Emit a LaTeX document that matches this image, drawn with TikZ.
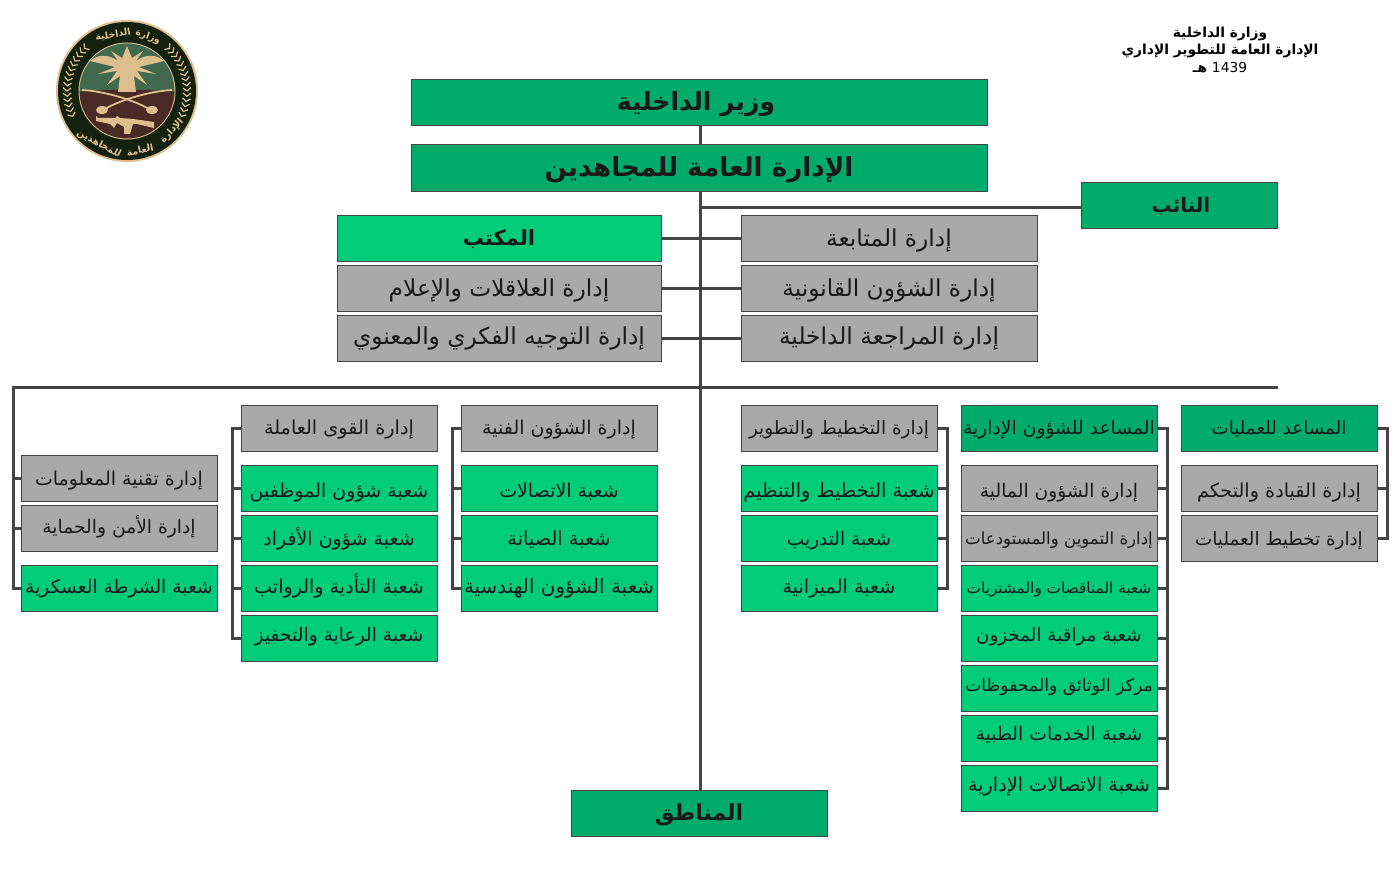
\documentclass[tikz,border=0pt]{standalone}
\usepackage{fontspec}
\setmainfont{DejaVu Sans}
\newfontfamily\arabicfont[Script=Arabic]{DejaVu Sans}
\TeXXeTstate=1
\newcommand{\artxt}[1]{{\arabicfont\beginR #1\endR}}
\newcommand{\pxfont}[1]{\fontsize{#1}{#1}\selectfont}
\definecolor{darkgreen}{HTML}{00AB6B}
\definecolor{lightgreen}{HTML}{00CC7A}
\definecolor{boxgrey}{HTML}{A9A9A9}
\definecolor{linegrey}{HTML}{444444}
\definecolor{sealgold}{HTML}{DDBF8E}
\definecolor{sealdark}{HTML}{14210F}
\definecolor{sealgreen}{HTML}{41694D}
\definecolor{sealbrown}{HTML}{4A2A25}
\tikzset{
  x=1pt,y=-1pt,
  base/.style={text height={(22+#1)*1pt},text depth={(22-#1)*1pt}},
  box/.style={draw=linegrey,line width=1pt,inner sep=0pt,outer sep=0pt,minimum height=46pt,text=black!90},
  greybox/.style={box,fill=boxgrey},
  greenbox/.style={box,fill=lightgreen},
  darkbox/.style={box,fill=darkgreen},
  small/.style={minimum width=196pt,font=\pxfont{19}},
  mid/.style={minimum width=296pt,font=\pxfont{23.3}},
  wide/.style={minimum width=324pt,font=\pxfont{23.3}},
  title/.style={darkbox,minimum width=576pt},
  link/.style={draw=linegrey,line width=3pt},
  sealtext/.style={text=sealgold,inner sep=0pt,font=\pxfont{9.5}\bfseries},
  head/.style={inner sep=0pt,font=\pxfont{13.8}\bfseries}
}
\begin{document}
\begin{tikzpicture}
  \useasboundingbox (0,0) rectangle (1400,880);

  % seal
  \begin{scope}[shift={(127,91)}]
    \fill[sealgold] (0,0) circle[radius=71];
    \fill[sealdark] (0,0) circle[radius=69];
    \fill[sealgold] (0,0) circle[radius=48.5];
    \begin{scope}
      \clip (0,0) circle[radius=47.5];
      \fill[sealgreen] (-50,-50) rectangle (50,2);
      \fill[sealbrown] (-50,1) .. controls (-20,-2) and (20,-2) .. (50,1) -- (50,50) -- (-50,50) -- cycle;
      \fill[sealgold] (0,-45) -- (5,-33) -- (16,-40) -- (9,-30) .. controls (20,-38) and (30,-36) .. (37,-30)
        -- (12,-24) -- (29,-17) -- (10,-20) -- (20,-6) -- (7,-15) -- (9,1) -- (-9,1) -- (-7,-15) -- (-20,-6)
        -- (-10,-20) -- (-29,-17) -- (-12,-24) -- (-37,-30) .. controls (-30,-36) and (-20,-38) .. (-9,-30)
        -- (-16,-40) -- (-5,-33) -- cycle;
      \draw[sealgold,line width=1.8pt] (-45,-1) .. controls (-25,0) and (5,8) .. (22,18);
      \draw[sealgold,line width=1.8pt] (45,-1) .. controls (25,0) and (-5,8) .. (-22,18);
      \fill[sealgold] (-25,19) ellipse[x radius=6,y radius=4];
      \fill[sealgold] (25,19) ellipse[x radius=6,y radius=4];
      \fill[sealgold] (-31,25) -- (-29,27) -- (-12,27) -- (-10,25) -- (-7,27) -- (6,28) -- (27,31) -- (27,37)
        -- (10,33) -- (6,33) -- (3,43) -- (-3,43) -- (-3,36) -- (-10,32) -- (-13,37) -- (-17,33) -- (-31,30) -- cycle;
    \end{scope}
    \foreach \a in {155,160,...,225}{
      \draw[sealgold,line width=1.2pt] (\a+3:56) -- (\a:60) -- (\a+3:64);
      \draw[sealgold,line width=1.2pt] (177-\a:56) -- (180-\a:60) -- (177-\a:64);
    }
    \node[sealtext,rotate=-20] (sealw1) at (21,-54) {\artxt{وزارة}};
    \node[sealtext,rotate=10] (sealw2) at (-14,-56) {\artxt{الداخلية}};
    \node[sealtext,rotate=48] (sealw3) at (45,40) {\artxt{الإدارة}};
    \node[sealtext,rotate=12] (sealw4) at (13,59) {\artxt{العامة}};
    \node[sealtext,rotate=-28] (sealw5) at (-28,53) {\artxt{للمجاهدين}};
  \end{scope}

  % heading
  \node[head] (headone) at (1220,34) {\artxt{وزارة الداخلية}};
  \node[head] (headtwo) at (1220,51) {\artxt{الإدارة العامة للتطوير الإداري}};
  \node[head] (headthree) at (1220,68) {{\arabicfont\beginR\beginL{\mdseries 1439}\endL{} هـ\endR}};

  % top of the chart
  \node[title,base=7.5,font=\pxfont{25}\bfseries] (minister) at (699,103) {\artxt{وزير الداخلية}\hspace*{6pt}};
  \node[title,base=8.5,font=\pxfont{26.2}\bfseries] (general) at (699,168) {\artxt{الإدارة العامة للمجاهدين}};
  \node[darkbox,small,base=7,font=\pxfont{20}\bfseries] (deputy) at (1179,205) {\hspace*{4pt}\artxt{النائب}};

  \node[greenbox,wide,base=7.5,font=\pxfont{21}\bfseries] (office) at (499,238) {\artxt{المكتب}};
  \node[greybox,wide,base=8] (relations) at (499,288) {\artxt{إدارة العلاقلات والإعلام}};
  \node[greybox,wide,base=6] (guidance) at (499,338) {\artxt{إدارة التوجيه الفكري والمعنوي}};
  \node[greybox,mid,base=8.5] (followup) at (889,238) {\artxt{إدارة المتابعة}};
  \node[greybox,mid,base=8] (legal) at (889,288) {\artxt{إدارة الشؤون القانونية}};
  \node[greybox,mid,base=6] (audit) at (889,338) {\artxt{إدارة المراجعة الداخلية}};

  % right groups
  \node[darkbox,small,base=6.5,font=\pxfont{18.3}] (ops) at (1279,428) {\artxt{المساعد للعمليات}};
  \node[greybox,small,base=9,font=\pxfont{19.2}] (command) at (1279,488) {\artxt{إدارة القيادة والتحكم}};
  \node[greybox,small,base=7,font=\pxfont{18.3}] (opsplan) at (1279,538) {\artxt{إدارة تخطيط العمليات}};

  \node[darkbox,small,base=6.5,font=\pxfont{18.7}] (admin) at (1059,428) {\artxt{المساعد للشؤون الإدارية}};
  \node[greybox,small,base=9,font=\pxfont{18.7}] (finance) at (1059,488) {\artxt{إدارة الشؤون المالية}};
  \node[greybox,small,base=6.5,font=\pxfont{16.6}] (supply) at (1059,538) {\artxt{إدارة التموين والمستودعات}};
  \node[greenbox,small,base=5,font=\pxfont{15.3}] (tenders) at (1059,588) {\artxt{شعبة المناقصات والمشتريات}};
  \node[greenbox,small,base=3.5,font=\pxfont{18.3}] (stock) at (1059,638) {\artxt{شعبة مراقبة المخزون}};
  \node[greenbox,small,base=3.5,font=\pxfont{17.2}] (archive) at (1059,688) {\artxt{مركز الوثائق والمحفوظات}};
  \node[greenbox,small,base=2.5,font=\pxfont{18.8}] (medical) at (1059,738) {\artxt{شعبة الخدمات الطبية}};
  \node[greenbox,small,base=3.5,font=\pxfont{19.2}] (signals) at (1059,788) {\artxt{شعبة الاتصالات الإدارية}};

  \node[greybox,small,base=6.5,font=\pxfont{18.4}] (planning) at (839,428) {\artxt{إدارة التخطيط والتطوير}};
  \node[greenbox,small,base=9,font=\pxfont{19.4}] (organise) at (839,488) {\artxt{شعبة التخطيط والتنظيم}};
  \node[greenbox,small,base=7,font=\pxfont{18.5}] (training) at (839,538) {\artxt{شعبة التدريب}};
  \node[greenbox,small,base=5,font=\pxfont{19.2}] (budget) at (839,588) {\artxt{شعبة الميزانية}};

  % left groups
  \node[greybox,small,base=6.5] (technical) at (559,428) {\artxt{إدارة الشؤون الفنية}};
  \node[greenbox,small,base=9] (comms) at (559,488) {\artxt{شعبة الاتصالات}};
  \node[greenbox,small,base=7,font=\pxfont{19.3}] (upkeep) at (559,538) {\artxt{شعبة الصيانة}};
  \node[greenbox,small,base=5,font=\pxfont{19.9}] (engineer) at (559,588) {\artxt{شعبة الشؤون الهندسية}};

  \node[greybox,small,base=6.5,font=\pxfont{19.2}] (manpower) at (339,428) {\artxt{إدارة القوى العاملة}};
  \node[greenbox,small,base=9] (staff) at (339,488) {\artxt{شعبة شؤون الموظفين}};
  \node[greenbox,small,base=7] (people) at (339,538) {\artxt{شعبة شؤون الأفراد}};
  \node[greenbox,small,base=5,font=\pxfont{19.1}] (pay) at (339,588) {\artxt{شعبة التأدية والرواتب}};
  \node[greenbox,small,base=3.5,font=\pxfont{18.7}] (welfare) at (339,638) {\artxt{شعبة الرعاية والتحفيز}};

  \node[greybox,small,base=7.5] (itdept) at (119,478) {\artxt{إدارة تقنية المعلومات}};
  \node[greybox,small,base=5.5,font=\pxfont{18.7}] (security) at (119,528) {\artxt{إدارة الأمن والحماية}};
  \node[greenbox,small,base=5,font=\pxfont{18.7}] (police) at (119,588) {\artxt{شعبة الشرطة العسكرية}};

  \node[darkbox,minimum width=256pt,base=7,font=\pxfont{22}\bfseries] (regions) at (699,813) {\artxt{المناطق}};

  % connectors
  \coordinate (busleft) at (13,387);
  \coordinate (busright) at (1278,387);
  \coordinate (trunk) at (700.5,387);
  \draw[link] (trunk |- minister.south) -- (trunk |- general.north);
  \draw[link] (trunk |- general.south) -- (trunk |- regions.north);
  \draw[link] (trunk |- 0,207.5) -- (deputy.west |- 0,207.5);
  \draw[link] (office.east) -- (followup.west);
  \draw[link] (relations.east) -- (legal.west);
  \draw[link] (guidance.east) -- (audit.west);
  \draw[link] (busright) -- (busleft) |- (police.west);
  \foreach \n in {itdept,security}
    \draw[link] (busleft |- \n.west) -- (\n.west);

  \draw[link] (ops.east) -- ++(10,0) |- (opsplan.east);
  \draw[link] (command.east) -- ++(10,0);
  \draw[link] (admin.east) -- ++(10,0) |- (signals.east);
  \foreach \n in {finance,supply,tenders,stock,archive,medical}
    \draw[link] (\n.east) -- ++(10,0);
  \draw[link] (planning.east) -- ++(10,0) |- (budget.east);
  \foreach \n in {organise,training}
    \draw[link] (\n.east) -- ++(10,0);

  \draw[link] (technical.west) -- ++(-9,0) |- (engineer.west);
  \foreach \n in {comms,upkeep}
    \draw[link] (\n.west) -- ++(-9,0);
  \draw[link] (manpower.west) -- ++(-9,0) |- (welfare.west);
  \foreach \n in {staff,people,pay}
    \draw[link] (\n.west) -- ++(-9,0);
\end{tikzpicture}
\end{document}
